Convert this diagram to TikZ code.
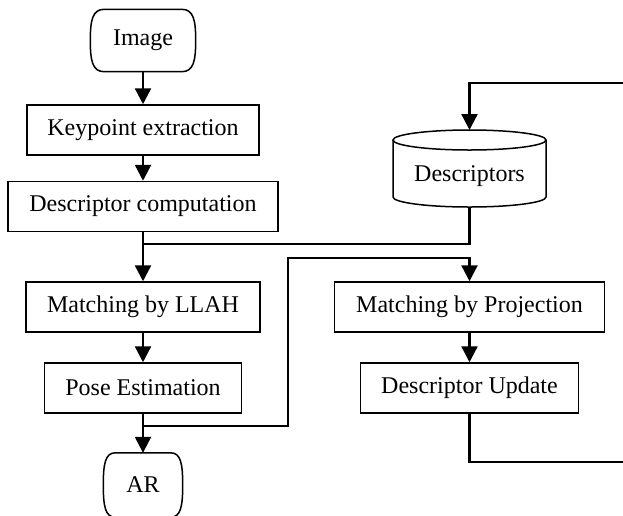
\documentclass[tikz,border=0pt]{standalone}
\usepackage{fontspec}
\setmainfont{Liberation Serif}
\usetikzlibrary{arrows.meta,calc}
\begin{document}
\begin{tikzpicture}[x=1pt,y=-1pt,
  box/.style={draw,line width=1.5pt,rectangle,inner sep=0pt,minimum height=50pt,font=\fontsize{24}{28}\selectfont},
  term/.style={inner sep=0pt,font=\fontsize{24}{28}\selectfont},
  conn/.style={line width=2.4pt},
  arr/.style={line width=2.4pt,-{Triangle[length=16pt,width=16pt]}}]
\useasboundingbox[fill=white] (0,0) rectangle (623,515);
% terminals
\node[term,minimum width=105pt,minimum height=62pt] (img) at (143,40.5) {Image};
\node[term,minimum width=79pt,minimum height=64pt] (ar) at (143,485) {AR};
\foreach \n/\b/\h in {img/14/31,ar/12/32}{
  \draw[line width=1.5pt] ($(\n.north west)+(\b,0)$) -- ($(\n.north east)+(-\b,0)$)
    .. controls +(0.85*\b,0) and +(0,-0.65*\h) .. (\n.east)
    .. controls +(0,0.65*\h) and +(0.85*\b,0) .. ($(\n.south east)+(-\b,0)$)
    -- ($(\n.south west)+(\b,0)$)
    .. controls +(-0.85*\b,0) and +(0,0.65*\h) .. (\n.west)
    .. controls +(0,-0.65*\h) and +(-0.85*\b,0) .. ($(\n.north west)+(\b,0)$) -- cycle;
}
% boxes
\node[box,minimum width=232pt] (kp) at (143,130) {Keypoint extraction};
\node[box,minimum width=270pt] (dc) at (143,206.5) {Descriptor computation};
\node[box,minimum width=234pt] (llah) at (143,307) {Matching by LLAH};
\node[box,minimum width=197pt] (pose) at (143,388) {Pose Estimation};
\node[box,minimum width=270pt] (mp) at (469.5,307) {Matching by Projection};
\node[box,minimum width=218pt] (du) at (469.5,388) {Descriptor Update};
% descriptors cylinder
\node[term] (desc) at (469.5,176) {Descriptors};
\coordinate (desctop) at (469.5,130);
\coordinate (descbot) at (469.5,207);
\draw[line width=1.5pt] (469.5,140) ellipse [x radius=76.5, y radius=10];
\draw[line width=1.5pt] (393,140) -- (393,197) arc[start angle=180,end angle=0,x radius=76.5,y radius=10] -- (546,140);
% connectors
\coordinate (j1) at (143,244);
\coordinate (j2) at (143,426);
\coordinate (k1) at (288,426);
\coordinate (k2) at (288,258);
\coordinate (r1) at (469.5,462);
\coordinate (r2) at (628,462);
\coordinate (r3) at (628,83);
\coordinate (r4) at (469.5,83);
\draw[arr] (img.south) -- (kp.north);
\draw[arr] (kp.south) -- (dc.north);
\draw[conn] (dc.south) -- (j1);
\draw[conn] (descbot) |- (j1);
\draw[arr] (j1) -- (llah.north);
\draw[arr] (llah.south) -- (pose.north);
\draw[arr] (pose.south) -- (ar.north);
\draw[arr] (j2) -- (k1) -- (k2) -| (mp.north);
\draw[arr] (mp.south) -- (du.north);
\draw[arr] (du.south) -- (r1) -- (r2) -- (r3) -- (r4) -- (desctop);
\end{tikzpicture}
\end{document}
